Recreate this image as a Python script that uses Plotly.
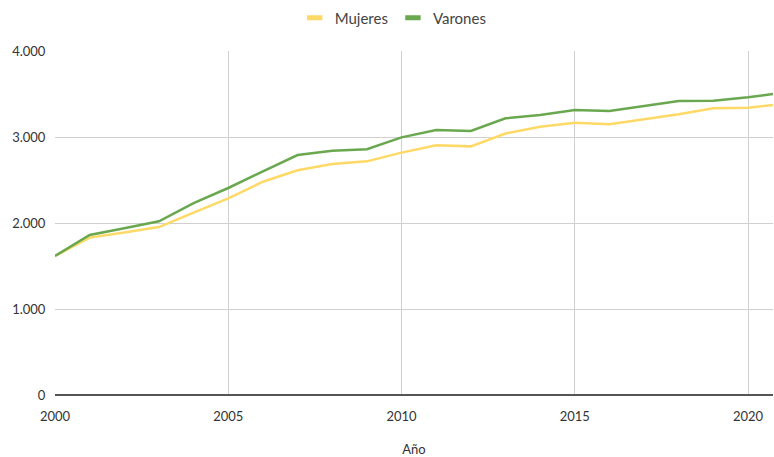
import plotly.graph_objects as go

years = list(range(2000, 2022))
mujeres = [1616, 1830, 1890, 1953, 2120, 2287, 2480, 2614, 2686, 2717, 2818, 2903, 2891,
           3040, 3120, 3167, 3147, 3206, 3264, 3333, 3341, 3385]
varones = [1616, 1860, 1940, 2020, 2230, 2407, 2600, 2790, 2840, 2857, 2996, 3081, 3070,
           3217, 3256, 3314, 3302, 3360, 3419, 3422, 3461, 3515]
ytick_vals = [0, 1000, 2000, 3000, 4000]
xtick_vals = [2000, 2005, 2010, 2015, 2020]
series_names = ["Mujeres", "Varones"]
series_colors = ["#FFD966", "#6AA84F"]

fig = go.Figure()
for name, vals, col in zip(series_names, [mujeres, varones], series_colors):
    fig.add_trace(go.Scatter(x=years, y=vals, mode="lines", name=name, showlegend=False,
                             line=dict(color=col, width=2.5)))
# legend entries with short thick dash symbols
for name, col in zip(series_names, series_colors):
    fig.add_trace(go.Scatter(x=[None], y=[None], mode="markers", name=name,
                             marker=dict(symbol="line-ew", size=11, color=col,
                                         line=dict(color=col, width=5))))

fig.update_layout(
    width=774, height=457,
    margin=dict(l=55, r=1, t=51, b=62),
    paper_bgcolor="white", plot_bgcolor="white",
    separators=",.",
    font=dict(family="Lato, sans-serif", size=13, color="#333333"),
    legend=dict(orientation="h", x=0.508, xanchor="center", y=1 - 18 / 457, yanchor="middle",
                xref="container", yref="container", font=dict(size=15, color="#444444"),
                itemwidth=30, tracegroupgap=0),
    showlegend=True,
)
fig.update_xaxes(range=[2000, 2020.72], tickvals=xtick_vals, showgrid=True,
                 gridcolor="#D0D0D0", gridwidth=1, zeroline=False, showline=False,
                 ticks="outside", ticklen=9, tickcolor="rgba(0,0,0,0)",
                 tickfont=dict(size=13, color="#333333"),
                 title=dict(text="Año", font=dict(size=13, color="#333333"), standoff=22))
fig.update_yaxes(range=[0, 4000], tickvals=ytick_vals, tickformat=",d", showgrid=True,
                 gridcolor="#D0D0D0", gridwidth=1, zeroline=True, zerolinecolor="#555555",
                 zerolinewidth=1.5, showline=False,
                 ticks="outside", ticklen=6, tickcolor="rgba(0,0,0,0)",
                 tickfont=dict(size=13, color="#333333"))

fig.write_html("out.html", config={"displayModeBar": False},
               post_script="document.body.style.margin='0';document.body.style.overflow='hidden';")
